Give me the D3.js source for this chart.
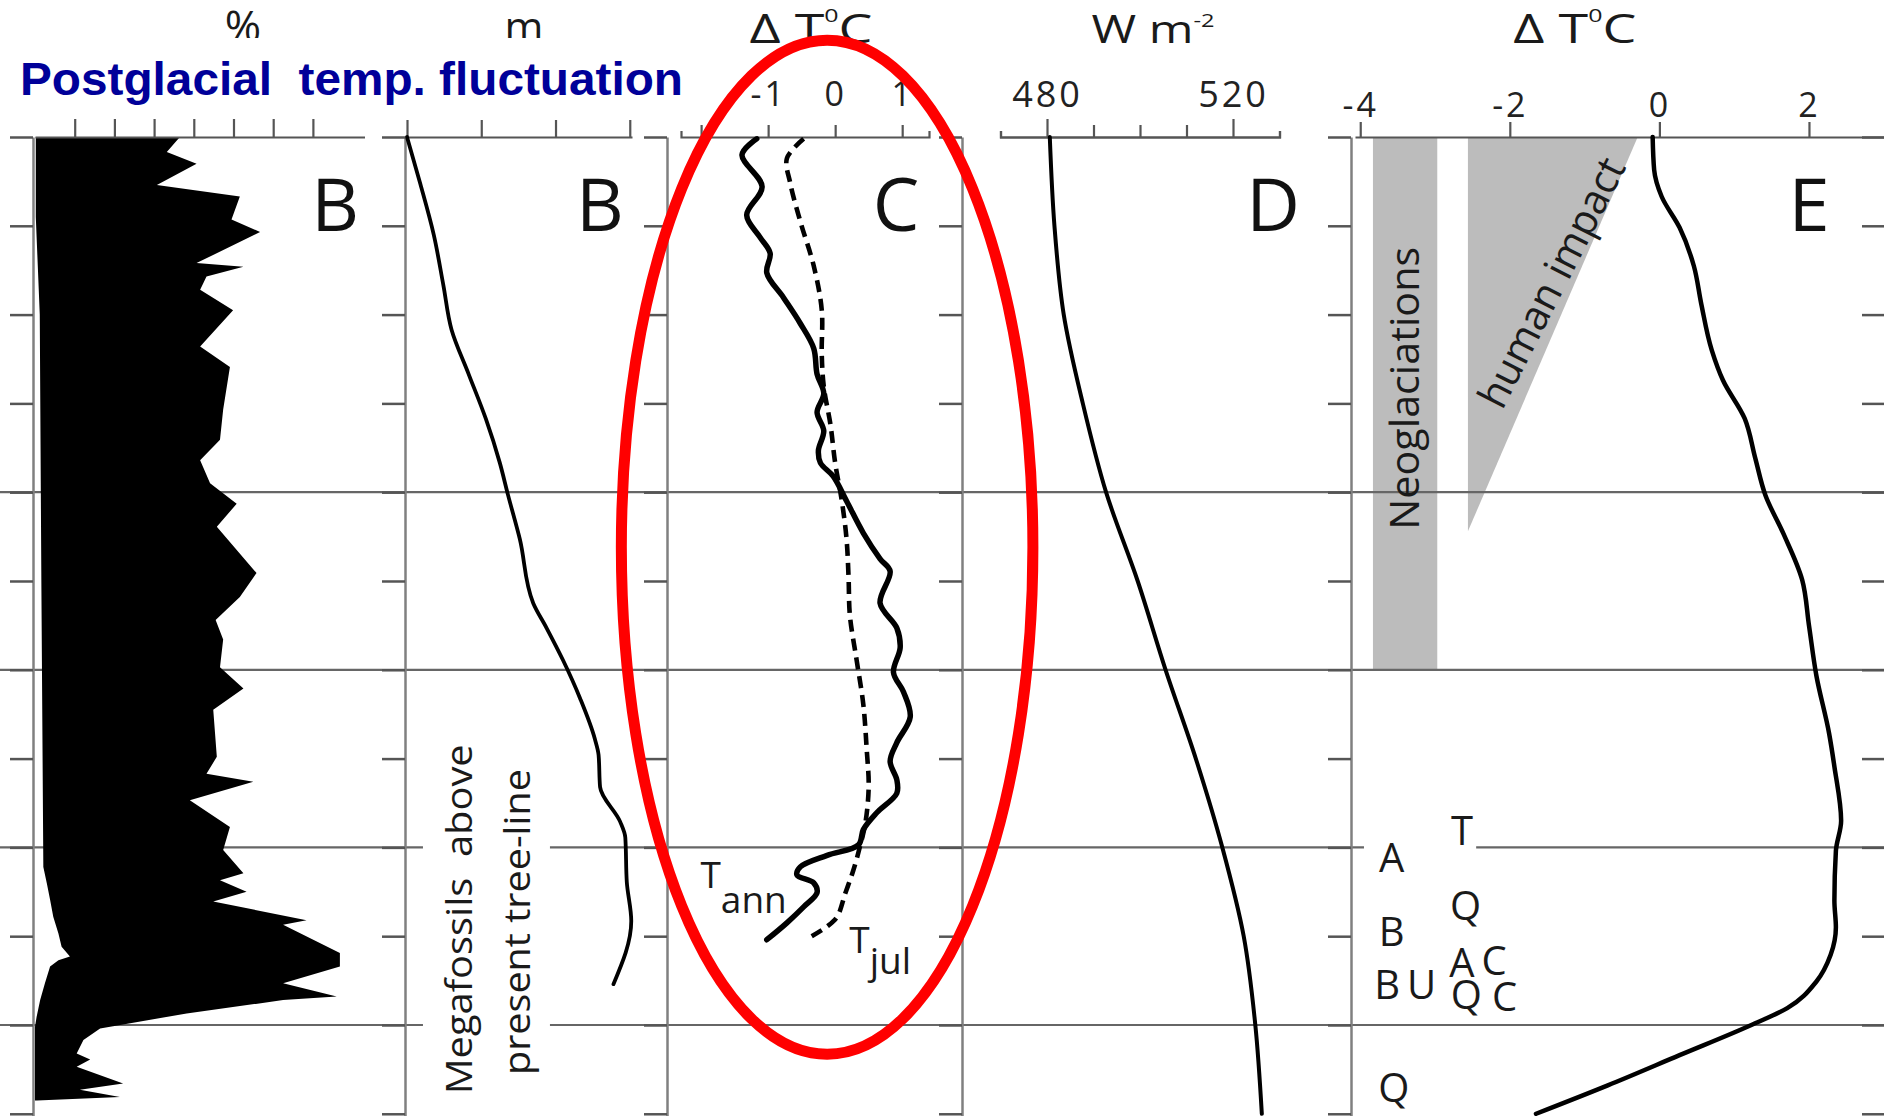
<!DOCTYPE html>
<html>
<head>
<meta charset="utf-8">
<script src="https://cdn.jsdelivr.net/npm/d3@7"></script>
<style>
  html, body { margin: 0; padding: 0; background: #fff; }
  svg { display: block; font-family: "Open Sans", "Noto Sans", sans-serif; }
</style>
</head>
<body>
<svg id="chart" width="1884" height="1116"></svg>
<script>
// ---- data (age in ka BP) ----
const ageTicks = d3.range(0, 12);
const gridAges = [4, 6, 8, 10];

// panel B (left): pollen %, right edge and left edge of the black silhouette
const pollenAge = [0, 0.17, 0.30, 0.54, 0.67, 0.93, 1.07, 1.42, 1.46, 1.57, 1.72, 1.95, 2.36, 2.59, 3.07, 3.41, 3.64, 3.90, 4.13, 4.39, 4.91, 5.18, 5.44, 5.66, 5.97, 6.21, 6.45, 6.98, 7.17, 7.26, 7.47, 7.77, 8.03, 8.29, 8.37, 8.50, 8.61, 8.82, 8.87, 9.19, 9.34, 9.53, 9.68, 9.72, 9.87, 10.04, 10.17, 10.32, 10.39, 10.47, 10.66, 10.73, 10.81, 10.85];
const pollenPct = [36.5, 33.2, 40.7, 30.7, 51.6, 49.5, 56.7, 40.7, 52.5, 43.2, 41.6, 49.9, 41.6, 49.1, 47.4, 46.6, 41.6, 44.1, 50.8, 45.8, 55.8, 51.6, 45.5, 47.4, 46.6, 52.5, 44.9, 45.8, 43.2, 55.0, 39.0, 49.1, 47.4, 52.5, 46.6, 53.3, 44.9, 68.4, 62.5, 76.8, 76.8, 62.5, 76.0, 62.5, 38.2, 16.4, 12.2, 10.5, 13.9, 10.5, 22.2, 11.3, 21.4, 0.5];
const pollenBaseAge = [10.85, 10.02, 9.91, 9.72, 9.53, 9.34, 9.27, 9.23, 9.12, 8.97, 8.78, 8.59, 8.41, 8.22, 5.0, 2.0, 0.9, 0];
const pollenBasePct = [0, 0, 0.4, 1.3, 2.5, 3.8, 5.9, 8.8, 6.7, 5.9, 4.6, 3.8, 3.0, 2.1, 1.6, 1.2, 0.2, 0.2];
const pctTicks = [10, 20, 30, 40, 50, 60, 70];

// panel B: megafossils above present tree-line (m)
const treeAge = [0, 0.53, 1.10, 1.67, 2.17, 2.67, 3.17, 3.67, 4.03, 4.53, 5.25, 5.53, 5.89, 6.32, 6.78, 6.96, 7.32, 7.71, 7.89, 8.39, 8.83, 9.54];
const treeM = [0, 18, 36, 49, 60, 83, 106, 125, 136, 152, 170, 188, 210, 233, 253, 258, 260, 287, 294, 296, 302, 278];
const mTicks = [0, 100, 200, 300];

// panel C: annual (solid) and July (dashed) temperature anomaly, deg C
const annAge = [0.02, 0.20, 0.56, 0.88, 1.13, 1.31, 1.53, 1.81, 2.10, 2.38, 2.67, 2.89, 3.10, 3.31, 3.53, 3.67, 3.82, 4.10, 4.46, 4.75, 4.89, 5.25, 5.53, 5.75, 6.03, 6.25, 6.53, 6.82, 7.03, 7.24, 7.39, 7.61, 7.80, 7.97, 8.09, 8.22, 8.31, 8.40, 8.51, 8.67, 8.85, 9.04];
const annT = [-1.17, -1.39, -1.09, -1.32, -1.12, -0.97, -1.02, -0.77, -0.52, -0.32, -0.27, -0.17, -0.27, -0.17, -0.25, -0.22, -0.03, 0.17, 0.42, 0.67, 0.82, 0.67, 0.92, 0.97, 0.87, 1.02, 1.12, 0.92, 0.82, 0.92, 0.92, 0.62, 0.42, 0.35, -0.12, -0.52, -0.57, -0.32, -0.27, -0.47, -0.72, -1.02];
const julAge = [0.02, 0.24, 0.52, 0.95, 1.45, 1.95, 2.45, 2.81, 3.24, 3.67, 4.10, 4.53, 4.96, 5.39, 5.89, 6.39, 6.89, 7.32, 7.73, 7.99, 8.26, 8.52, 8.78, 8.89, 9.00];
const julT = [-0.47, -0.72, -0.67, -0.52, -0.32, -0.20, -0.20, -0.17, -0.07, 0.00, 0.10, 0.17, 0.20, 0.22, 0.32, 0.42, 0.47, 0.50, 0.45, 0.37, 0.27, 0.15, 0.03, -0.12, -0.35];
const cTicks = [-2, -1, 0, 1];

// panel D: insolation, W m-2
const insolAge = [0, 1, 2, 3, 4, 5, 6, 7, 8, 9, 10, 11];
const insolW = [480.6, 481.6, 483.6, 487.7, 492.7, 499.5, 505.5, 512.0, 517.7, 522.3, 524.8, 526.2];
const dMajor = [480, 520];
const dMinor = [490, 500, 510];

// panel E: temperature anomaly, deg C
const eAge = [0, 0.37, 0.67, 1.02, 1.45, 1.88, 2.40, 2.74, 3.17, 3.61, 4.04, 4.47, 4.99, 5.50, 6.07, 6.72, 7.09, 7.70, 8.04, 8.60, 8.90, 9.21, 9.51, 9.81, 10.0, 10.34, 10.68, 11.0];
const eT = [-0.09, -0.07, 0.03, 0.27, 0.46, 0.56, 0.70, 0.85, 1.14, 1.28, 1.42, 1.66, 1.91, 2.00, 2.10, 2.27, 2.34, 2.43, 2.36, 2.34, 2.36, 2.29, 2.10, 1.71, 1.23, 0.27, -0.69, -1.65];
const eTicks = [-4, -2, 0, 2];
const neoglacT = [-3.83, -2.97];
const neoglacAge = [0, 6];
const humanT = [-2.56, -0.29, -2.56];
const humanAge = [0, 0, 4.44];
const siteLabel = ["A", "T", "Q", "B", "A", "C", "B", "U", "Q", "C", "Q"];
const siteT = [-3.58, -2.64, -2.59, -3.58, -2.64, -2.21, -3.64, -3.18, -2.58, -2.07, -3.55];
const siteAge = [8.12, 7.81, 8.65, 8.95, 9.30, 9.28, 9.55, 9.55, 9.66, 9.68, 10.70];

// ---- layout ----
const W = 1884, H = 1116;
const svg = d3.select('#chart');
const pts = (a, b) => a.map((d, i) => [d, b[i]]);

const y = d3.scaleLinear().domain([0, 11.025]).range([137, 1116]);
const xA = d3.scaleLinear().domain([0, 83]).range([35, 364.5]);
const xB = d3.scaleLinear().domain([0, 303]).range([407, 632]);
const xC = d3.scaleLinear().domain([-2.3, 1.4]).range([681, 929]);
const xD = d3.scaleLinear().domain([470, 530]).range([1000.5, 1279.5]);
const xE = d3.scaleLinear().domain([-4.07, 3.03]).range([1355, 1886]);
const ageAxisX = [33, 405, 667, 962, 1351, 1885];

const vline = (xs, curve) => d3.line().x(d => xs(d[1])).y(d => y(d[0])).curve(curve || d3.curveLinear);

// grey bands in E
svg.append('rect')
  .attr('x', xE(neoglacT[0])).attr('width', xE(neoglacT[1]) - xE(neoglacT[0]))
  .attr('y', y(neoglacAge[0])).attr('height', y(neoglacAge[1]) - y(neoglacAge[0]))
  .attr('fill', '#bcbcbc');
svg.append('path')
  .attr('d', d3.line().x(d => xE(d[1])).y(d => y(d[0])).curve(d3.curveLinearClosed)(pts(humanAge, humanT)))
  .attr('fill', '#bcbcbc');

// horizontal guide lines
svg.append('g').selectAll('line').data(gridAges).join('line')
  .attr('x1', 0).attr('x2', W)
  .attr('y1', d => y(d)).attr('y2', d => y(d))
  .attr('stroke', '#666').attr('stroke-width', 2.2);

// black pollen silhouette
const silhouette = pts(pollenAge, pollenPct).concat(pts(pollenBaseAge, pollenBasePct));
svg.append('path')
  .attr('d', vline(xA, d3.curveLinearClosed)(silhouette))
  .attr('fill', '#000');

// white backgrounds behind labels
svg.append('rect')
  .attr('x', xB(21.5)).attr('width', xB(192.5) - xB(21.5))
  .attr('y', y(6.7)).attr('height', y(10.99) - y(6.7))
  .attr('fill', '#fff');
svg.append('rect')
  .attr('x', xE(-3.95)).attr('width', xE(-2.45) - xE(-3.95))
  .attr('y', y(7.94)).attr('height', y(8.06) - y(7.94))
  .attr('fill', '#fff');

// age axes (ticks pointing left of each panel)
ageAxisX.forEach(x0 => {
  const g = svg.append('g').attr('transform', `translate(${x0},0)`)
    .call(d3.axisLeft(y).tickValues(ageTicks).tickSize(23).tickSizeOuter(0).tickFormat(''));
  g.select('.domain').attr('stroke', '#808080').attr('stroke-width', 2.5);
  g.selectAll('.tick line').attr('stroke', '#555').attr('stroke-width', 2.5);
});

// top axes
function topAxis(axis, size) {
  const g = svg.append('g').attr('transform', `translate(0,${y(0)})`).call(axis);
  g.select('.domain').attr('stroke', '#555').attr('stroke-width', 2.2).attr('fill', 'none');
  g.selectAll('.tick line').attr('stroke', '#555').attr('stroke-width', 2.2);
  g.selectAll('.tick text')
    .attr('font-family', '"Open Sans", sans-serif').attr('font-size', size || 32)
    .attr('letter-spacing', 3).attr('fill', '#222');
  return g;
}
const fmt = d => String(d);
topAxis(d3.axisTop(xA).tickValues(pctTicks).tickSize(18).tickSizeOuter(0).tickFormat(''));
topAxis(d3.axisTop(xB).tickValues(mTicks).tickSize(17).tickSizeOuter(0).tickFormat(''));
topAxis(d3.axisTop(xC).tickValues(cTicks).tickSize(12).tickSizeOuter(6).tickPadding(19)
  .tickFormat(d => d === -2 ? '' : fmt(d)), 34);
topAxis(d3.axisTop(xD).tickValues(dMinor).tickSize(12).tickSizeOuter(6).tickFormat(''));
topAxis(d3.axisTop(xD).tickValues(dMajor).tickSize(18).tickSizeOuter(6).tickPadding(12).tickFormat(fmt), 36);
topAxis(d3.axisTop(xE).tickValues(eTicks).tickSize(15).tickSizeOuter(0).tickPadding(5).tickFormat(fmt), 34);

// curves
const curves = svg.append('g').attr('fill', 'none').attr('stroke', '#000')
  .attr('stroke-linejoin', 'round').attr('stroke-linecap', 'round');
curves.append('path').attr('d', vline(xB, d3.curveMonotoneY)(pts(treeAge, treeM))).attr('stroke-width', 3.8);
curves.append('path').attr('d', vline(xC, d3.curveCatmullRom.alpha(0.5))(pts(annAge, annT))).attr('stroke-width', 5.5);
curves.append('path').attr('d', vline(xC, d3.curveCatmullRom.alpha(0.5))(pts(julAge, julT)))
  .attr('stroke-width', 4.6).attr('stroke-dasharray', '12,7').attr('stroke-linecap', 'butt');
curves.append('path').attr('d', vline(xD, d3.curveMonotoneY)(pts(insolAge, insolW))).attr('stroke-width', 4);
curves.append('path').attr('d', vline(xE, d3.curveMonotoneY)(pts(eAge, eT))).attr('stroke-width', 4.5);

// panel letters
const letterAge = 1.06;
[[xA, 75.6, 'B'], [xB, 259.8, 'B'], [xC, 0.91, 'C'], [xD, 528.6, 'D'], [xE, 2.0, 'E']].forEach(([xs, v, t]) => {
  svg.append('text').attr('x', xs(v)).attr('y', y(letterAge))
    .attr('text-anchor', 'middle').attr('font-size', 74).attr('fill', '#111').text(t);
});

// annotations
const txt = svg.append('g').attr('fill', '#1a1a1a');
txt.append('text')
  .attr('transform', `translate(${xB(87.5)},${y(8.81)}) rotate(-90)`)
  .attr('text-anchor', 'middle').attr('font-size', 37)
  .attr('textLength', 350).attr('lengthAdjust', 'spacingAndGlyphs')
  .text('Megafossils  above').style('white-space', 'pre');
txt.append('text')
  .attr('transform', `translate(${xB(165.6)},${y(8.84)}) rotate(-90)`)
  .attr('text-anchor', 'middle').attr('font-size', 37)
  .attr('textLength', 306).attr('lengthAdjust', 'spacingAndGlyphs')
  .text('present tree-line');

const tAnn = txt.append('text').attr('x', xC(-2.01)).attr('y', y(8.46)).attr('font-size', 37);
tAnn.append('tspan').text('T');
tAnn.append('tspan').attr('dy', 25).text('ann');
const tJul = txt.append('text').attr('x', xC(0.21)).attr('y', y(9.19)).attr('font-size', 37);
tJul.append('tspan').text('T');
tJul.append('tspan').attr('dy', 21).text('jul');

txt.append('text')
  .attr('transform', `translate(${xE(-3.215)},${y(2.83)}) rotate(-90)`)
  .attr('text-anchor', 'middle').attr('font-size', 40)
  .attr('textLength', 283).attr('lengthAdjust', 'spacingAndGlyphs')
  .text('Neoglaciations');
txt.append('text')
  .attr('transform', `translate(${xE(-1.46)},${y(1.63)}) rotate(-63)`)
  .attr('text-anchor', 'middle').attr('dominant-baseline', 'central').attr('font-size', 41)
  .attr('textLength', 274).attr('lengthAdjust', 'spacingAndGlyphs')
  .text('human impact');

txt.append('g').selectAll('text').data(siteLabel).join('text')
  .attr('x', (d, i) => xE(siteT[i])).attr('y', (d, i) => y(siteAge[i]))
  .attr('dy', '0.36em').attr('text-anchor', 'middle').attr('font-size', 40)
  .text(d => d);

// unit labels
const units = svg.append('g').attr('fill', '#1a1a1a').attr('text-anchor', 'middle');
units.append('text').attr('x', xA(52.4)).attr('y', 42).attr('font-size', 44).text('%');
units.append('text').attr('x', xB(157.5)).attr('y', 42).attr('font-size', 42).text('m');
function degLabel(x0, cx) {
  const t = units.append('text').attr('x', x0(cx)).attr('y', 43).attr('font-size', 41)
    .attr('textLength', 123).attr('lengthAdjust', 'spacingAndGlyphs');
  t.append('tspan').text('\u0394 T');
  t.append('tspan').attr('font-size', 19).attr('dy', -21).text('0');
  t.append('tspan').attr('dy', 21).text('C');
}
degLabel(xC, -0.36);
degLabel(xE, -1.13);
const wl = units.append('text').attr('x', xD(502.8)).attr('y', 43).attr('font-size', 39)
  .attr('textLength', 123).attr('lengthAdjust', 'spacingAndGlyphs');
wl.append('tspan').text('W m');
wl.append('tspan').attr('font-size', 19).attr('dy', -16).text('-2');

// title on a white block
svg.append('rect').attr('x', 0).attr('y', 38).attr('width', 712).attr('height', 78).attr('fill', '#fff');
svg.append('text')
  .attr('x', 20).attr('y', 95)
  .attr('font-family', '"Liberation Sans", Arial, sans-serif')
  .attr('font-weight', 'bold').attr('font-size', 46).attr('fill', '#000099')
  .attr('textLength', 663).attr('lengthAdjust', 'spacingAndGlyphs')
  .style('white-space', 'pre')
  .text('Postglacial  temp. fluctuation');

// red highlight around panel C
const focusT = [-0.12, 3.07];
const focusAge = [4.62, 5.71];
svg.append('ellipse')
  .attr('cx', xC(focusT[0])).attr('cy', y(focusAge[0]))
  .attr('rx', xC(focusT[0] + focusT[1]) - xC(focusT[0]))
  .attr('ry', y(focusAge[0] + focusAge[1]) - y(focusAge[0]))
  .attr('fill', 'none').attr('stroke', '#ff0000').attr('stroke-width', 11);
</script>
</body>
</html>
